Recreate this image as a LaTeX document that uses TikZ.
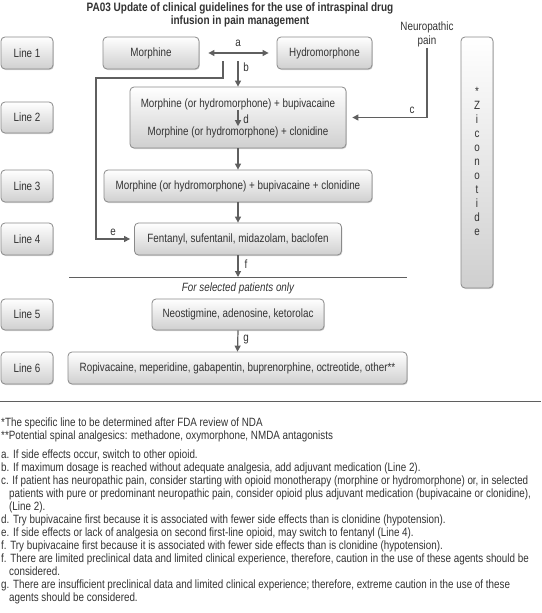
\documentclass[tikz,border=0pt]{standalone}
\usepackage{fontspec}
\setmainfont[FakeStretch=0.82]{Liberation Sans}
\usetikzlibrary{arrows.meta,shadows}
\definecolor{txt}{HTML}{333333}
\definecolor{ln}{HTML}{5F5F5F}
\definecolor{bd}{HTML}{8A8A8A}
\definecolor{fillbot}{HTML}{CFCFCF}
\begin{document}
\begin{tikzpicture}[x=1pt,y=-1pt,
  font=\fontsize{12}{14}\selectfont, text=txt,
  box/.style={draw=bd, line width=0.8pt, rounded corners=4pt, top color=white, bottom color=fillbot,
    drop shadow={shadow xshift=0.8pt, shadow yshift=-1pt, opacity=0.35}, inner sep=0pt, align=center},
  conn/.style={draw=ln, line width=1.2pt, -{Triangle[length=6pt,width=6pt]}},
  plain/.style={draw=ln, line width=1.2pt},
  lbl/.style={inner sep=0pt}]
\useasboundingbox (0,0) rectangle (541,613);
% title
\node[anchor=north, align=center, inner sep=0pt, font=\bfseries\fontsize{12.2}{12.5}\selectfont] (title) at (240,2.5)
  {PA03 Update of clinical guidelines for the use of intraspinal drug\\infusion in pain management};
% line labels
\node[box, minimum width=52pt, minimum height=32pt] (l1) at (27,53) {Line 1};
\node[box, minimum width=52pt, minimum height=31pt] (l2) at (27,117.5) {Line 2};
\node[box, minimum width=52pt, minimum height=32pt] (l3) at (27,186) {Line 3};
\node[box, minimum width=52pt, minimum height=32pt] (l4) at (27,239) {Line 4};
\node[box, minimum width=52pt, minimum height=31pt] (l5) at (27,314.5) {Line 5};
\node[box, minimum width=52pt, minimum height=32pt] (l6) at (27,368) {Line 6};
% content boxes
\node[box, minimum width=96pt, minimum height=32pt] (mor) at (151,53) {Morphine};
\node[box, minimum width=95pt, minimum height=32pt] (hyd) at (324.5,53) {Hydromorphone};
\node[box, minimum width=216pt, minimum height=61pt] (c2) at (238,117.5) {};
\node[lbl] (t2a) at (238,104) {Morphine (or hydromorphone) + bupivacaine};
\node[lbl] (t2b) at (238,132) {Morphine (or hydromorphone) + clonidine};
\node[box, minimum width=268pt, minimum height=32pt] (c3) at (238,186) {Morphine (or hydromorphone) + bupivacaine + clonidine};
\node[box, minimum width=207pt, minimum height=32pt] (c4) at (238,239) {Fentanyl, sufentanil, midazolam, baclofen};
\node[box, minimum width=172pt, minimum height=31pt] (c5) at (238,314.5) {Neostigmine, adenosine, ketorolac};
\node[box, minimum width=339pt, minimum height=32pt] (c6) at (237.5,368) {Ropivacaine, meperidine, gabapentin, buprenorphine, octreotide, other**};
% ziconotide
\node[box, minimum width=32pt, minimum height=251pt] (zic) at (477,162.5) {};
\node[lbl, align=center] (zt) at (477,161) {*\\Z\\i\\c\\o\\n\\o\\t\\i\\d\\e};
% neuropathic pain
\node[lbl, align=center, font=\fontsize{12}{14.5}\selectfont] (np) at (427,34.5) {Neuropathic\\pain};
% connectors
\coordinate (bs) at (238,61);
\coordinate (es) at (223,61);
\coordinate (fr) at (238,277);
\coordinate (r1) at (69,277);
\coordinate (r2) at (407,277);
\draw[plain, {Triangle[length=6pt,width=6pt]}-{Triangle[length=6pt,width=6pt]}, shorten <=9pt, shorten >=8pt] (mor.east) -- (hyd.west);
\node[lbl] (la) at (238,43) {a};
\draw[conn] (bs) -- (c2.north);
\node[lbl] (lb) at (246,67) {b};
\draw[conn] (es) |- (96,78) |- ([xshift=-4pt]c4.west);
\node[lbl] (le) at (113,232) {e};
\draw[conn] (np.south) |- ([xshift=6pt]c2.east);
\node[lbl] (lc) at (412,110) {c};
\draw[conn] (t2a) -- (t2b);
\node[lbl] (ld) at (246,119) {d};
\draw[conn] (c2.south) -- (c3.north);
\draw[conn] (c3.south) -- (c4.north);
\draw[conn] (c4.south) -- (fr);
\node[lbl] (lf) at (246,264) {f};
\draw[plain, line width=1pt] (r1) -- (r2);
\node[lbl, font=\itshape\fontsize{12}{14}\selectfont] (sel) at (238,288) {For selected patients only};
\draw[conn] (c5.south) -- (c6.north);
\node[lbl] (lg) at (246,340) {g};
% footnote rule
\coordinate (f1) at (0,401);
\coordinate (f2) at (541,401);
\draw[plain, line width=1pt] (f1) -- (f2);
\node[anchor=north west, align=left, inner sep=0pt, font=\fontsize{12}{13}\selectfont] (fn) at (1,417.5) {%
*The specific line to be determined after FDA review of NDA\\
**Potential spinal analgesics: methadone, oxymorphone, NMDA antagonists\\[6pt]
a. If side effects occur, switch to other opioid.\\
b. If maximum dosage is reached without adequate analgesia, add adjuvant medication (Line 2).\\
c. If patient has neuropathic pain, consider starting with opioid monotherapy (morphine or hydromorphone) or, in selected\\
\hspace*{8pt}patients with pure or predominant neuropathic pain, consider opioid plus adjuvant medication (bupivacaine or clonidine),\\
\hspace*{8pt}(Line 2).\\
d. Try bupivacaine first because it is associated with fewer side effects than is clonidine (hypotension).\\
e. If side effects or lack of analgesia on second first-line opioid, may switch to fentanyl (Line 4).\\
f. Try bupivacaine first because it is associated with fewer side effects than is clonidine (hypotension).\\
f. There are limited preclinical data and limited clinical experience, therefore, caution in the use of these agents should be\\
\hspace*{8pt}considered.\\
g. There are insufficient preclinical data and limited clinical experience; therefore, extreme caution in the use of these\\
\hspace*{8pt}agents should be considered.};
\end{tikzpicture}
\end{document}
